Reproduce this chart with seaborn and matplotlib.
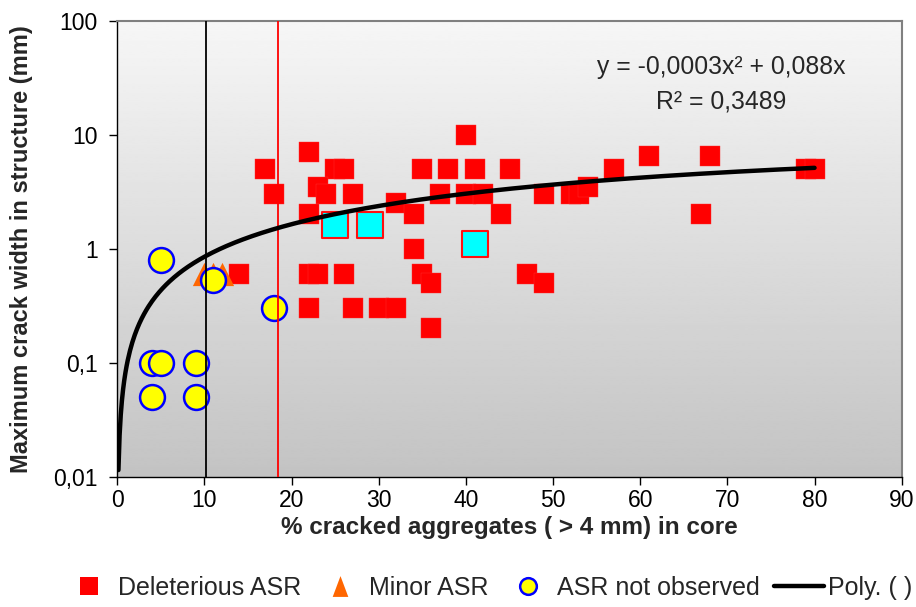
import numpy as np
import pandas as pd
import matplotlib
matplotlib.use("Agg")
import matplotlib.pyplot as plt
from matplotlib.lines import Line2D
import seaborn as sns

# ---------------- data ----------------
del_x = [40, 22, 17, 25, 26, 35, 38, 41, 45, 57, 79, 80, 61, 68, 18, 23, 24, 27, 37, 40, 42, 49,
         52, 53, 54, 32, 34, 44, 22, 67, 34, 14, 22, 23, 26, 35, 47, 36, 49, 22, 27, 30, 32, 36]
del_y = [10, 7, 5, 5, 5, 5, 5, 5, 5, 5, 5, 5, 6.5, 6.5, 3, 3.5, 3, 3, 3, 3, 3, 3,
         3, 3, 3.5, 2.5, 2, 2, 2, 2, 1, 0.6, 0.6, 0.6, 0.6, 0.6, 0.6, 0.5, 0.5, 0.3, 0.3, 0.3, 0.3, 0.2]

cyan_x = [25, 29, 41]
cyan_y = [1.6, 1.6, 1.1]

minor_x = [10, 11, 12]
minor_y = [0.6, 0.6, 0.6]

nobs_x = [5, 11, 18, 4, 5, 9, 4, 9]
nobs_y = [0.8, 0.53, 0.3, 0.1, 0.1, 0.1, 0.05, 0.05]

# trendline coefficients as printed on the chart: y = a*x^2 + b*x
poly_a = -0.0003
poly_b = 0.088
poly_range = [0.13, 80]

thresholds = [10.2, 18.4]
threshold_colors = ["black", "red"]

x_ticks = [0, 10, 20, 30, 40, 50, 60, 70, 80, 90]
y_ticks = [0.01, 0.1, 1, 10, 100]
y_ticklabels = ["0,01", "0,1", "1", "10", "100"]

legend_labels = ["Deleterious ASR", "Minor ASR", "ASR not observed", "Poly. ( )"]

# ---------------- figure ----------------
sns.set_style("white")
plt.rcParams["font.family"] = ["Liberation Sans", "DejaVu Sans"]

fig = plt.figure(figsize=(9.16, 6.07), dpi=100)
ax = fig.add_axes([117.3 / 916, 1 - 476.7 / 607, (901.7 - 117.3) / 916, (476.7 - 20.7) / 607])

# gradient background
grad = np.linspace(0.965, 0.765, 256).reshape(-1, 1)
ax.imshow(grad, cmap="gray", vmin=0, vmax=1, aspect="auto",
          extent=(0, 1, 0, 1), transform=ax.transAxes, zorder=0, interpolation="bilinear")

df_del = pd.DataFrame({"x": del_x, "y": del_y})
df_cyan = pd.DataFrame({"x": cyan_x, "y": cyan_y})
df_minor = pd.DataFrame({"x": minor_x, "y": minor_y})
df_nobs = pd.DataFrame({"x": nobs_x, "y": nobs_y})

sns.scatterplot(data=df_del, x="x", y="y", ax=ax, marker="s", s=220, color="#ff0000",
                edgecolor="#ff3030", linewidth=0.3, zorder=3, legend=False)
sns.scatterplot(data=df_cyan, x="x", y="y", ax=ax, marker="s", s=360, color="#00ffff",
                edgecolor="#ff1010", linewidth=1.5, zorder=3, legend=False)
sns.scatterplot(data=df_minor, x="x", y="y", ax=ax, marker="^", s=280, color="#ff6600",
                linewidth=0, zorder=4, legend=False)
sns.scatterplot(data=df_nobs, x="x", y="y", ax=ax, marker="o", s=320, color="#ffff00",
                edgecolor="#0000ff", linewidth=1.8, zorder=5, legend=False)

xs = np.linspace(poly_range[0], poly_range[1], 600)
df_poly = pd.DataFrame({"x": xs, "y": poly_a * xs ** 2 + poly_b * xs})
sns.lineplot(data=df_poly, x="x", y="y", ax=ax, color="black", linewidth=3.2, zorder=7,
             legend=False, solid_capstyle="round")

for t, c in zip(thresholds, threshold_colors):
    ax.axvline(t, color=c, linewidth=1.3, zorder=6)

ax.set_yscale("log")
ax.set_xlim(0, 90)
ax.set_ylim(0.01, 100)
ax.set_xticks(x_ticks)
ax.set_xticklabels([str(v) for v in x_ticks])
ax.set_yticks(y_ticks)
ax.set_yticklabels(y_ticklabels)
ax.minorticks_off()
ax.tick_params(axis="both", labelsize=16.5, colors="black", direction="out", width=1)
ax.tick_params(axis="x", length=6, pad=3)
ax.tick_params(axis="y", length=6, pad=8)
ax.tick_params(which="both", bottom=True, left=True)

for side in ["left", "bottom"]:
    ax.spines[side].set_color("black")
    ax.spines[side].set_linewidth(1.0)
for side in ["top", "right"]:
    ax.spines[side].set_visible(True)
    ax.spines[side].set_color("#808080")
    ax.spines[side].set_linewidth(1.5)

ax.set_xlabel("% cracked aggregates ( > 4 mm) in core", fontsize=17.5, fontweight="bold", labelpad=3)
ax.set_ylabel("Maximum crack width in structure (mm)", fontsize=17, fontweight="bold")
ax.yaxis.set_label_coords((33 - 117.3) / 784.4, 0.5)

# equation text
ax.text(721 / 916, 1 - 67 / 607, "y = -0,0003x² + 0,088x", transform=fig.transFigure,
        ha="center", va="center", fontsize=17.8)
ax.text(721 / 916, 1 - 102 / 607, "R² = 0,3489", transform=fig.transFigure,
        ha="center", va="center", fontsize=17.8)

tri = [(0, 1), (-0.75, -1), (0.75, -1)]
handles = [
    Line2D([], [], linestyle="none", marker="s", markersize=13, markerfacecolor="#ff0000", markeredgewidth=0),
    Line2D([], [], linestyle="none", marker=tri, markersize=15, markerfacecolor="#ff6600", markeredgewidth=0),
    Line2D([], [], linestyle="none", marker="o", markersize=12, markerfacecolor="#ffff00",
           markeredgecolor="#0000ff", markeredgewidth=1.8),
    Line2D([], [], color="black", linewidth=3.2),
]
fig.legend(handles, legend_labels, loc="center left", bbox_to_anchor=(64 / 916, 1 - 588 / 607),
           ncol=4, frameon=False, fontsize=18, handlelength=2.0, handletextpad=0.16,
           columnspacing=0.56, borderpad=0, borderaxespad=0)

fig.savefig("out.png", dpi=100)
